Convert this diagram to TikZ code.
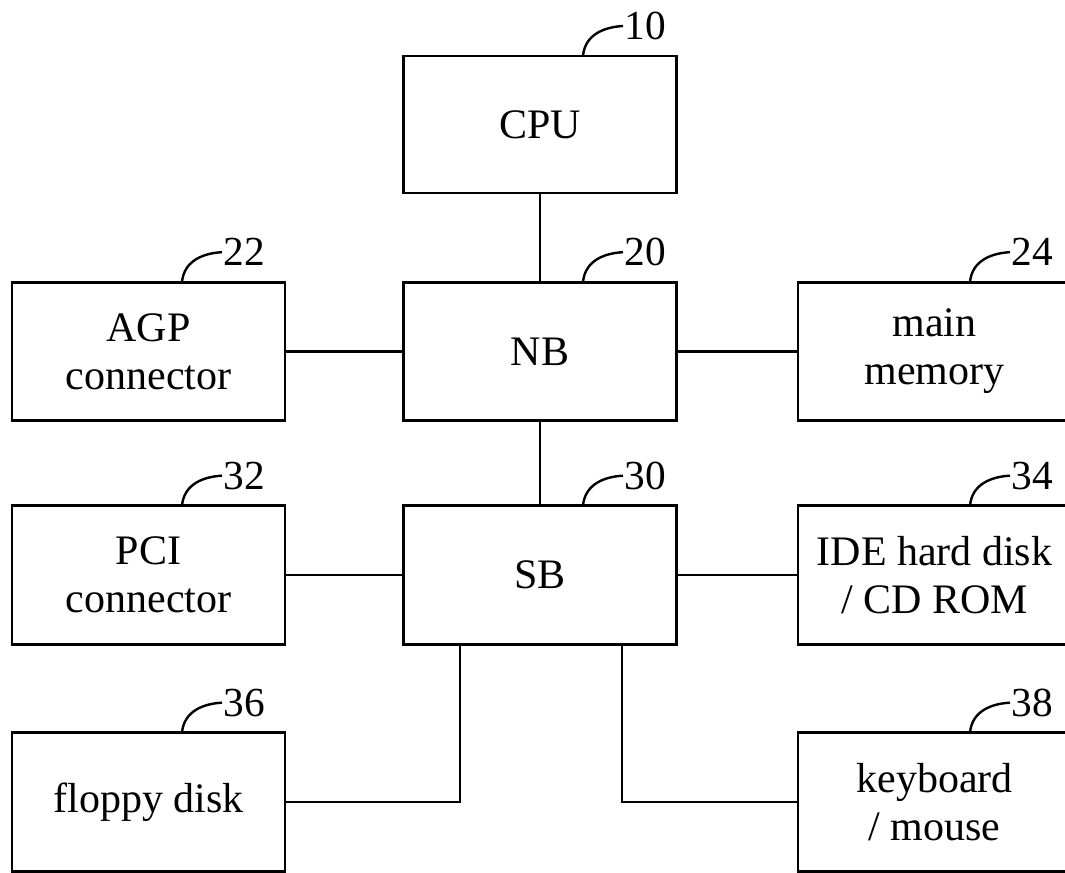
\documentclass[tikz,border=0pt]{standalone}
\usepackage{fontspec}
\setmainfont{Liberation Serif}
\usetikzlibrary{calc}
\begin{document}
\begin{tikzpicture}[x=0.75pt,y=-0.75pt,
  blk/.style={draw,line width=2.2pt,minimum width=204.75pt,minimum height=104pt,
    outer sep=0pt,inner sep=2pt,align=center,font=\fontsize{31.5}{36}\selectfont},
  num/.style={inner sep=1pt,anchor=west,font=\fontsize{31}{36}\selectfont},
  conn/.style={line width=1.6pt},
  lead/.style={line width=1.8pt}]
\clip (0,0) rectangle (1065,873);
\fill[white] (0,0) rectangle (1065,873);
% boxes
\node[blk,minimum height=102.75pt] (cpu) at (540,124.5) {CPU};
\node[blk] (nb) at (540,351.5) {NB};
\node[blk] (sb) at (540,575) {SB};
\node[blk] (agp) at (148.5,351.5) {AGP\\connector};
\node[blk] (mem) at (934.5,351.5) {main\\memory};
\node[blk] (pci) at (148.5,575) {PCI\\connector};
\node[blk] (ide) at (934.5,575) {IDE hard disk\\/ CD ROM};
\node[blk] (fd) at (148.5,802) {floppy disk};
\node[blk] (kb) at (934.5,802) {keyboard\\/ mouse};
% connectors
\draw[conn] (cpu.south) -- (nb.north);
\draw[conn] (nb.south) -- (sb.north);
\draw[conn] (agp.east) -- (nb.west);
\draw[conn] (nb.east) -- (mem.west);
\draw[conn] (pci.east) -- (sb.west);
\draw[conn] (sb.east) -- (ide.west);
\coordinate (sbl) at ($(sb.south)+(-80,0)$);
\coordinate (sbr) at ($(sb.south)+(82,0)$);
\draw[conn] (sbl) |- (fd.east);
\draw[conn] (sbr) |- (kb.west);
% reference labels
\foreach \b/\n/\o in {cpu/10/43, nb/20/43, sb/30/43, agp/22/33.5, pci/32/33.5, fd/36/33.5, mem/24/35.5, ide/34/35.5, kb/38/35.5}{
  \coordinate (s\n) at ($(\b.north)+(\o,0)$);
  \node[num] (n\n) at ($(s\n)+(40,-30)$) {\n};
  \draw[lead] (s\n) .. controls ($(s\n)+(2,-22)$) and ($(n\n.west)+(-18,1)$) .. (n\n.west);
}
\end{tikzpicture}
\end{document}
